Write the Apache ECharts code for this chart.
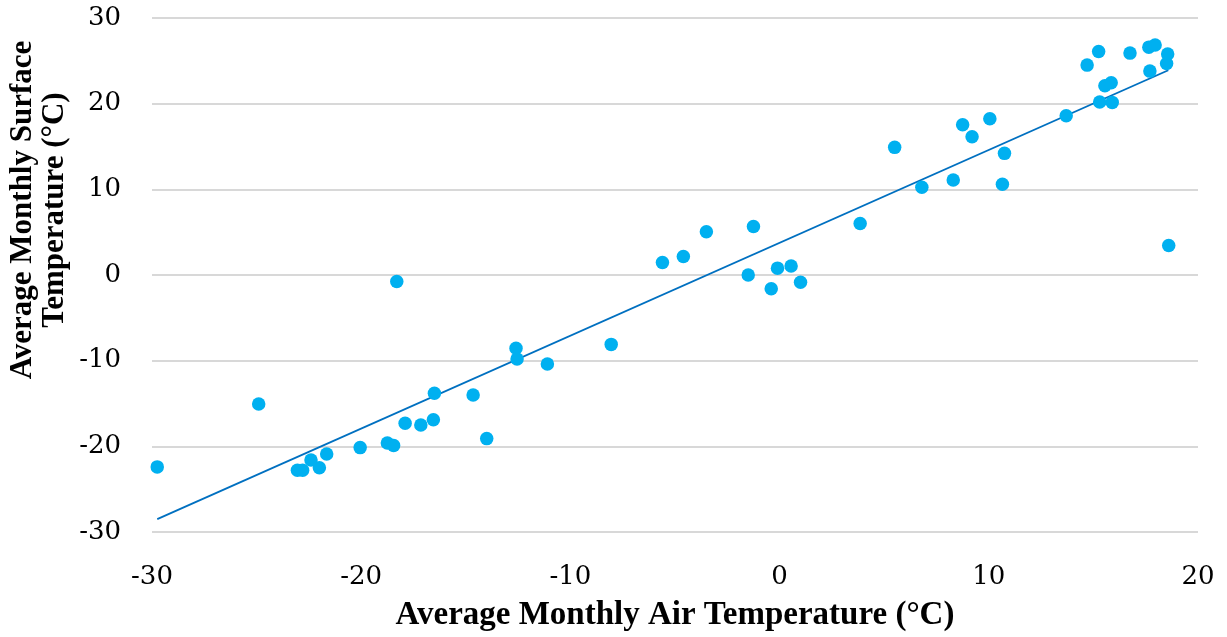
<!DOCTYPE html>
<html>
<head>
<meta charset="utf-8">
<script src="https://cdn.jsdelivr.net/npm/echarts@6/dist/echarts.min.js"></script>
<style>html,body{margin:0;padding:0;background:#fff;overflow:hidden}#c{width:100vw;height:100vh}</style>
</head>
<body>
<div id="c"></div>
<script>
// Average monthly air temperature (°C)
const airTemp = [-29.75,-24.9,-23.05,-22.8,-22.4,-22.0,-21.65,-20.05,-18.75,-18.45,-17.9,-17.15,-16.55,-16.5,-14.65,-14.0,-18.3,-12.6,-12.55,-11.1,-8.05,-5.6,-4.6,-3.5,-1.25,-1.5,-0.4,-0.1,0.55,1.0,3.85,5.5,6.8,8.3,8.75,9.2,10.05,10.75,10.65,13.7,14.7,15.25,15.3,15.55,15.85,15.9,16.75,17.65,17.95,17.7,18.55,18.5,18.6];
// Average monthly surface temperature (°C)
const surfaceTemp = [-22.4,-15.05,-22.8,-22.8,-21.6,-22.5,-20.9,-20.15,-19.6,-19.9,-17.3,-17.5,-16.9,-13.8,-14.0,-19.1,-0.75,-8.55,-9.8,-10.4,-8.1,1.45,2.15,5.05,5.65,0.0,-1.6,0.8,1.05,-0.85,6.0,14.9,10.25,11.1,17.55,16.15,18.25,14.2,10.6,18.6,24.5,26.1,20.2,22.1,22.45,20.15,25.9,26.6,26.85,23.8,25.8,24.7,3.45];
// Linear trendline end points
const trendX = [-29.75, 18.58];
const trendY = [-28.5, 23.9];
// Axis ticks
const xTicks = [-30,-20,-10,0,10,20];
const yTicks = [-30,-20,-10,0,10,20,30];
const xTitle = 'Average Monthly Air Temperature (°C)';
const yTitle = ['Average Monthly Surface', 'Temperature (°C)'];

const points = airTemp.map((x, i) => [x, surfaceTemp[i]]);
const trend = trendX.map((x, i) => [x, trendY[i]]);

const chart = echarts.init(document.getElementById('c'));
const tickFont = {fontFamily: 'DejaVu Serif', fontSize: 26, color: '#000'};
chart.setOption({
  animation: false,
  grid: {left: 152, right: 29, top: 18, bottom: 100, containLabel: false},
  xAxis: {
    type: 'value', min: xTicks[0], max: xTicks[xTicks.length-1], interval: 10,
    axisLine: {show: false}, axisTick: {show: false}, splitLine: {show: false},
    axisLabel: Object.assign({margin: 32}, tickFont),
    name: xTitle, nameLocation: 'middle', nameGap: 67,
    nameTextStyle: {fontFamily: 'Liberation Serif', fontWeight: 'bold', fontSize: 33, color: '#000'}
  },
  yAxis: {
    type: 'value', min: yTicks[0], max: yTicks[yTicks.length-1], interval: 10,
    axisLine: {show: false}, axisTick: {show: false},
    splitLine: {show: true, lineStyle: {color: '#cbcbcb', width: 1.5}},
    axisLabel: Object.assign({margin: 31}, tickFont)
  },
  graphic: [{
    type: 'text', x: 39, y: 210, rotation: Math.PI/2,
    style: {
      text: yTitle.join('\n'), x: 0, y: 0,
      align: 'center', verticalAlign: 'middle',
      fontFamily: 'Liberation Serif', fontWeight: 'bold', fontSize: 31, lineHeight: 32, fill: '#000'
    }
  }],
  series: [
    {type: 'scatter', data: points, symbolSize: 13.5, itemStyle: {color: '#00B0F0', opacity: 1}, z: 3},
    {type: 'line', data: trend, symbol: 'none', lineStyle: {color: '#0070C0', width: 1.9}, z: 2}
  ]
});
</script>
</body>
</html>
